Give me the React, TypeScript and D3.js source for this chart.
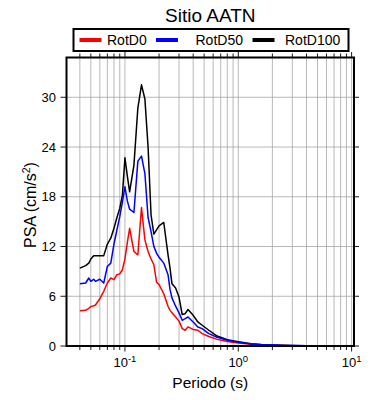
import * as d3 from "d3"

// Spectral periods (s) and pseudo-spectral accelerations (cm/s^2)
const periods = [
  0.04, 0.045, 0.048, 0.05, 0.053, 0.055, 0.06, 0.065, 0.07, 0.075, 0.08, 0.085, 0.09, 0.095,
  0.1, 0.105, 0.11, 0.12, 0.13, 0.14, 0.15, 0.16, 0.17, 0.18, 0.19, 0.2, 0.22, 0.24, 0.25,
  0.26, 0.28, 0.3, 0.32, 0.34, 0.36, 0.4, 0.44, 0.48, 0.55, 0.65, 0.8, 1.0, 1.3, 1.6, 2, 2.5,
  3, 4, 5, 7, 10,
]
const rotD0 = [
  4.25, 4.3, 4.55, 4.75, 4.85, 4.95, 5.7, 6.6, 7.6, 8.2, 8.0, 8.6, 8.7, 9.2,
  10.5, 12.5, 14.2, 11.4, 11.0, 16.7, 12.8, 11.4, 10.5, 9.8, 7.7, 7.4, 6.3, 4.8, 4.3,
  4.0, 3.5, 3.0, 2.1, 1.9, 2.3, 2.0, 1.9, 1.5, 1.15, 0.8, 0.55, 0.35, 0.2, 0.13, 0.09, 0.06,
  0.04, 0.03, 0.02, 0.012, 0.008,
]
const rotD50 = [
  7.5, 7.6, 8.2, 7.8, 8.05, 7.8, 8.05, 7.6, 9.6, 10.0, 12.3, 14.0, 15.6, 17.4,
  19.2, 17.5, 16.5, 16.1, 22.3, 22.9, 20.8, 15.5, 13.8, 12.0, 11.2, 10.7, 10.0, 8.6, 6.8,
  5.8, 4.8, 4.0, 3.1, 3.3, 3.5, 2.9, 2.3, 2.1, 1.5, 1.05, 0.7, 0.45, 0.25, 0.16, 0.11, 0.07,
  0.05, 0.035, 0.025, 0.015, 0.01,
]
const rotD100 = [
  9.4, 9.7, 10.0, 10.5, 10.9, 10.9, 10.9, 10.9, 12.3, 13.0, 14.2, 15.5, 16.6, 18.2,
  22.7, 20.5, 18.6, 21.8, 28.7, 31.5, 29.8, 24.0, 15.8, 13.5, 14.0, 14.5, 14.9, 11.0, 9.4,
  7.5, 7.0, 5.9, 3.8, 3.9, 4.4, 3.7, 2.9, 2.5, 1.9, 1.2, 0.75, 0.52, 0.28, 0.18, 0.12, 0.08,
  0.06, 0.04, 0.03, 0.02, 0.01,
]

const yTicks = [0, 6, 12, 18, 24, 30]
const xMajor = [0.1, 1, 10]
const xExponents = ["-1", "0", "1"]

const seriesNames = ["RotD0", "RotD50", "RotD100"]
const seriesColors = ["#ff0000", "#0000ff", "#000000"]

const font = "'Liberation Sans', Arial, Helvetica, sans-serif"

export default function App() {
  const left = 66.5
  const right = 354
  const top = 57.5
  const bottom = 346

  const x = d3.scaleLog().domain([0.0305, 10.5]).range([left, right])
  const y = d3.scaleLinear().domain([0, 34.8]).range([bottom, top])

  // all log grid positions (1..9 x 10^d) inside the domain
  const gridX: number[] = []
  for (let d = -2; d <= 1; d++) {
    for (let k = 1; k <= 9; k++) {
      const v = k * Math.pow(10, d)
      if (v >= 0.0305 && v <= 10.5) gridX.push(v)
    }
  }

  const line = d3
    .line<number>()
    .x((_, i) => x(periods[i]))
    .y((d) => y(d))

  const allSeries = [rotD0, rotD50, rotD100]
  const drawOrder = [0, 2, 1]

  // legend layout
  const legendItems = [
    { lx: 79.5, tx: 107 },
    { lx: 156, tx: 195.5 },
    { lx: 252.5, tx: 285 },
  ]

  return (
    <svg
      width={390}
      height={400}
      style={{ position: "absolute", left: 0, top: 0, background: "#fff" }}
      fontFamily={font}
    >
      <rect x={0} y={0} width={390} height={400} fill="#fff" />

      {/* title */}
      <text x={(left + right) / 2} y={22} textAnchor="middle" fontSize={19} fill="#000">
        Sitio AATN
      </text>

      {/* legend */}
      <rect x={73.5} y={29} width={275} height={22} fill="#fff" stroke="#000" strokeWidth={2} />
      {seriesNames.map((name, i) => (
        <g key={name}>
          <line
            x1={legendItems[i].lx}
            x2={legendItems[i].lx + 22}
            y1={40}
            y2={40}
            stroke={seriesColors[i]}
            strokeWidth={4}
          />
          <text x={legendItems[i].tx} y={45} fontSize={14} fill="#000">
            {name}
          </text>
        </g>
      ))}

      {/* grid */}
      {gridX.map((v) => (
        <line key={"gx" + v} x1={x(v)} x2={x(v)} y1={top} y2={bottom} stroke="#a6a6a6" strokeWidth={0.8} />
      ))}
      {yTicks.map((v) => (
        <line key={"gy" + v} x1={left} x2={right} y1={y(v)} y2={y(v)} stroke="#a6a6a6" strokeWidth={0.8} />
      ))}

      {/* series */}
      {drawOrder.map((i) => (
        <path
          key={seriesNames[i]}
          d={line(allSeries[i]) || ""}
          fill="none"
          stroke={seriesColors[i]}
          strokeWidth={1.5}
          strokeLinejoin="round"
        />
      ))}

      {/* x ticks top & bottom */}
      {gridX.map((v) => {
        const major = xMajor.includes(v)
        const len = major ? 5.5 : 4
        return (
          <g key={"tx" + v}>
            <line x1={x(v)} x2={x(v)} y1={top} y2={top - len} stroke="#000" strokeWidth={0.9} />
            <line x1={x(v)} x2={x(v)} y1={bottom} y2={bottom + len} stroke="#000" strokeWidth={0.9} />
          </g>
        )
      })}

      {/* y ticks left & right */}
      {yTicks.map((v) => (
        <g key={"ty" + v}>
          <line x1={left} x2={left - 6} y1={y(v)} y2={y(v)} stroke="#000" strokeWidth={0.9} />
          <line x1={right} x2={right + 5} y1={y(v)} y2={y(v)} stroke="#000" strokeWidth={0.9} />
          <text x={56} y={y(v) + 4.5} textAnchor="end" fontSize={13} fill="#000">
            {v}
          </text>
        </g>
      ))}

      {/* x tick labels */}
      {xMajor.map((v, i) => (
        <text key={"xl" + v} x={x(v)} y={367} textAnchor="middle" fontSize={13} fill="#000">
          10
          <tspan dy={-5} fontSize={9.5}>
            {xExponents[i]}
          </tspan>
        </text>
      ))}

      {/* frame */}
      <rect x={left} y={top} width={right - left} height={bottom - top} fill="none" stroke="#000" strokeWidth={2} />

      {/* axis titles */}
      <text x={(left + right) / 2} y={388} textAnchor="middle" fontSize={15.5} fill="#000">
        Periodo (s)
      </text>
      <text transform="translate(36, 205) rotate(-90)" textAnchor="middle" fontSize={16} fill="#000">
        PSA (cm/s
        <tspan dy={-6} fontSize={10.5}>
          2
        </tspan>
        <tspan dy={6}>)</tspan>
      </text>
    </svg>
  )
}
